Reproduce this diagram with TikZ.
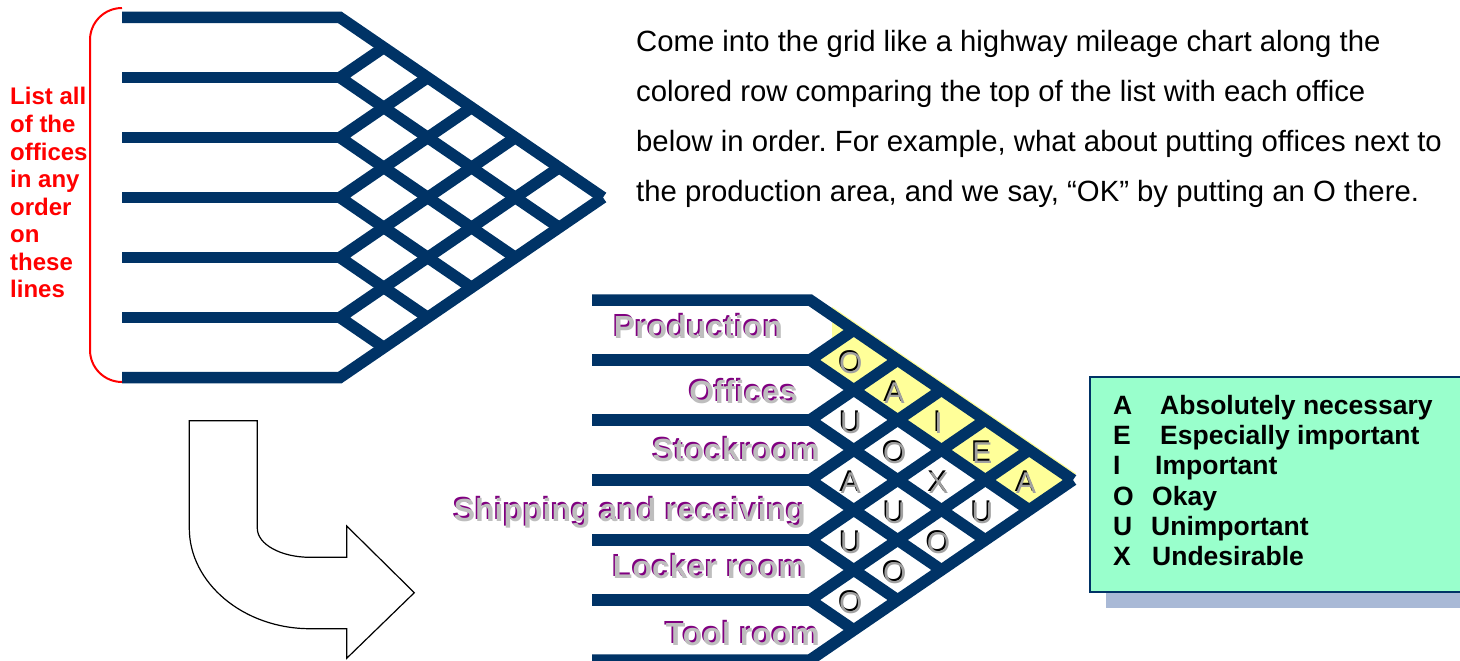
\documentclass[tikz,border=0pt]{standalone}
\usepackage{fontspec}
\setmainfont{Liberation Sans}
\frenchspacing
\definecolor{navy}{HTML}{003366}
\definecolor{cellyellow}{HTML}{FFFF99}
\definecolor{mint}{HTML}{99FFCC}
\definecolor{shadowblue}{HTML}{A9B9D6}
\definecolor{labelpurple}{HTML}{800080}
\definecolor{labelgray}{HTML}{BEBEBE}
\definecolor{lettergray}{HTML}{A0A0A0}
\newcommand{\latticegrid}{%
  \foreach \k in {1,...,5} {
    \draw[gridline] (-218,60*\k) -- (0,60*\k);
    \draw[gridline] ({\a*(6-\k)/2},{180+30*\k}) -- (0,60*\k) -- ({\a*\k/2},{30*\k});
  }
  \draw[gridline] (-218,0) -- (0,0) -- ({3*\a},180);
  \draw[gridline] (-218,360) -- (0,360) -- ({3*\a},180);
}
\newcommand{\shadowlabel}[4]{%
  \node[labelfont,text=labelpurple] at ({#2-1.6},{#3-1.6}) {#4};
  \node[labelfont,text=labelgray] (#1) at (#2,#3) {#4};
}
\begin{document}
\begin{tikzpicture}[x=1pt,y=-1pt,
  gridline/.style={line width=11.5pt,draw=navy,line join=miter,line cap=butt},
  redtext/.style={text=red,font=\fontsize{24}{27}\selectfont\bfseries,anchor=base west,inner sep=0pt},
  paratext/.style={font=\fontsize{29.3}{34}\selectfont,anchor=base west,inner sep=0pt},
  legendtext/.style={font=\fontsize{26.5}{30}\selectfont\bfseries,anchor=base west,inner sep=0pt},
  labelfont/.style={font=\fontsize{32}{36}\selectfont\bfseries,anchor=base east,inner sep=0pt},
  cellfont/.style={font=\fontsize{30}{34}\selectfont,inner sep=0pt},
]
\useasboundingbox (0,0) rectangle (1460,661);
\def\a{87.67}

% ---- top (empty) grid
\begin{scope}[shift={(340,17.5)}]
  \latticegrid
\end{scope}

% red bracket
\draw[red,line width=2pt] (122,8) .. controls (104.3,8) and (90,22.3) .. (90,40)
  -- (90,350) .. controls (90,367.7) and (104.3,382) .. (122,382);

% red text
\foreach \t [count=\i from 0] in {List all,of the,offices,in any,order,on,these,lines}
  \node[redtext] (red\i) at (10,{105+27.5*\i}) {\t};

% paragraph
\node[paratext] (p1) at (636,51.7) {Come into the grid like a highway mileage chart along the};
\node[paratext] (p2) at (636,101.7) {colored row comparing the top of the list with each office};
\node[paratext] (p3) at (636,151.7) {below in order. For example, what about putting offices next to};
\node[paratext] (p4) at (636,201.7) {the production area, and we say, “OK” by putting an O there.};

% ---- curved arrow
\draw[black,line width=1.2pt,fill=white,line join=miter]
  (189.3,420.7) -- (257.3,420.7) -- (257.3,528.3)
  .. controls (257.3,544.3) and (281,557.3) .. (310,557.3)
  -- (346.7,557.3) -- (346.7,526) -- (414.3,592.7) -- (346.7,658.3) -- (346.7,628.7)
  -- (310,628.7) .. controls (243.5,628.7) and (189.3,583) .. (189.3,528.3) -- cycle;

% ---- bottom (filled) grid
\begin{scope}[shift={(810,300)}]
  \fill[cellyellow] (22,{22*60/\a-8.5}) -- ({3*\a+3},{(3*\a+3)*60/\a-8.5})
     -- ({2.5*\a},210) -- (0,60) -- (22,{60-22*60/\a}) -- cycle;
  \latticegrid
  \foreach \r/\s/\L in {0/1/O,0/2/A,0/3/I,0/4/E,0/5/A,1/2/U,1/3/O,1/4/X,1/5/U,2/3/A,2/4/U,2/5/O,3/4/U,3/5/O,4/5/O} {
    \node[cellfont,text=black] at ({\a*(\s-\r)/2-4.4},{30*(\r+\s)+31.6}) {\L};
    \node[cellfont,text=lettergray] (c\r\s) at ({\a*(\s-\r)/2-3},{30*(\r+\s)+33}) {\L};
  }
\end{scope}

% row labels
\shadowlabel{lprod}{783}{338.5}{Production}
\shadowlabel{loff}{798}{403.5}{Offices}
\shadowlabel{lstock}{820}{461.5}{Stockroom}
\shadowlabel{lship}{806}{521.5}{Shipping and receiving}
\shadowlabel{llock}{807}{578.5}{Locker room}
\shadowlabel{ltool}{820}{645.5}{Tool room}

% ---- legend
\fill[shadowblue] (1106,393) rectangle (1480,608);
\draw[navy,line width=2pt,fill=mint] (1090,377) rectangle (1480,592);
\foreach \L/\W/\wx [count=\i from 0] in {A/Absolutely necessary/1160,E/Especially important/1160,I/Important/1155,O/Okay/1152,U/Unimportant/1151,X/Undesirable/1152} {
  \node[legendtext] (lk\i) at (1113,{414.5+30.2*\i}) {\L};
  \node[legendtext] (lw\i) at (\wx,{414.5+30.2*\i}) {\W};
}
\end{tikzpicture}
\end{document}
